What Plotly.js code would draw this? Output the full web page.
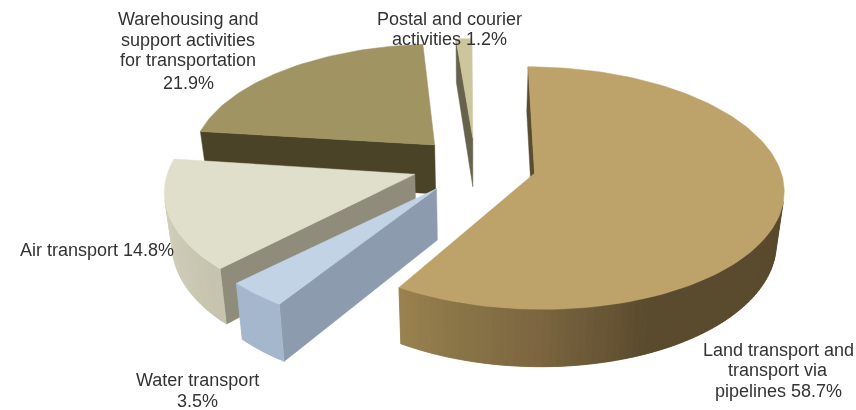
<!DOCTYPE html>
<html>
<head>
<meta charset="utf-8">
<script src="https://cdn.plot.ly/plotly-3.0.1.min.js"></script>
<style>html,body{margin:0;padding:0;background:#fff}#c{width:856px;height:410px;filter:blur(0.5px)}</style>
</head>
<body>
<div id="c"></div>
<script>
// Data, clockwise from the top of the pie
const categories = ['Land transport and transport via pipelines','Water transport','Air transport','Warehousing and support activities for transportation','Postal and courier activities'];
const shares = [58.7, 3.5, 14.8, 21.9, 1.2];
const labelLines = [
  ['Land transport and','transport via','pipelines 58.7%'],
  ['Water transport','3.5%'],
  ['Air transport 14.8%'],
  ['Warehousing and','support activities','for transportation','21.9%'],
  ['Postal and courier','activities 1.2%']
];
// Styles and layout
const topColors = ['#BDA26A','#C2D3E6','#E0DFCB','#A09562','#CCC59E'];
const cutColors = ['#5A4C30','#8C9BAE','#8F8C7B','#4B4327','#66624C'];
const rimStops = [
  [[0,'#5A4B2E'],[155,'#5A4B2E'],[178,'#7C6540'],[195,'#8A7548'],[210,'#9C8450']],
  [[0,'#A0B2C8'],[360,'#A8BACE']],
  [[224,'#C6C3AE'],[277,'#DCDAC6']],
  [[0,'#4B4327'],[360,'#4B4327']],
  [[0,'#66624C'],[360,'#66624C']]
];
const labelX = [778, 197, 96.5, 188, 449];
const labelY = [[350,370,391],[380,401],[250],[19,40,60,83],[19,39]];
const sliceDX = [3, 0, -1.5, 3, 3];
const sliceDY = [1, 0, -1, 0, 1];
const sliceTurn = [1, 3, 1.5, 1, 0.7];
const drawOrder = [3, 4, 2, 1, 0];
// Projection of the tilted pie
const CX = 473, CY = 165, RX = 245, RY = 117.7, PERSP = 0.121, DEPTH = 50, TAPER = 0.025;
const EXPLODE = 0.245, START = -1;

function proj(u, v, dx, dy) {
  const w = 1 + PERSP * v;
  const x = CX + RX * u / w + dx, y = CY - RY * v / w + dy;
  return {x, y, bx: CX + (x - CX) * (1 - TAPER), by: y + DEPTH / w};
}
function hex(c){return [1,3,5].map(i=>parseInt(c.substr(i,2),16));}
function colorAt(stops, a){
  if (a <= stops[0][0]) return stops[0][1];
  for (let i = 1; i < stops.length; i++) {
    if (a <= stops[i][0]) {
      const t = (a - stops[i-1][0]) / (stops[i][0] - stops[i-1][0]);
      const p = hex(stops[i-1][1]), q = hex(stops[i][1]);
      return 'rgb(' + p.map((v,k)=>Math.round(v + (q[k]-v)*t)).join(',') + ')';
    }
  }
  return stops[stops.length-1][1];
}
function poly(xs, ys, color){
  return {type:'scatter', mode:'lines', x:xs, y:ys, fill:'toself', fillcolor:color,
          line:{color:color, width:0.5}, hoverinfo:'skip', showlegend:false};
}
const total = shares.reduce((a,b)=>a+b, 0);
const spans = []; let acc = 0;
shares.forEach(s => { const a0 = START + acc/total*360; acc += s; spans.push([a0, START + acc/total*360]); });

const traces = [];
drawOrder.forEach(i => {
  const [a0, a1] = spans[i];
  const dx = sliceDX[i], dy = sliceDY[i], turn = sliceTurn[i];
  const mid = (a0 + a1) / 2 * Math.PI / 180;
  const ou = EXPLODE * Math.sin(mid), ov = EXPLODE * Math.cos(mid);
  const apex = proj(ou, ov, dx, dy);
  const rim = [], rimA = [];
  const n = Math.max(2, Math.ceil((a1 - a0) / 1.5));
  for (let k = 0; k <= n; k++) {
    const a = a0 + (a1 - a0) * k / n, r = (a + turn) * Math.PI / 180;
    rim.push(proj(ou + Math.sin(r), ov + Math.cos(r), dx, dy)); rimA.push(a);
  }
  const visible = (p, q) => (q.x-p.x)*(p.by-p.y) - (q.y-p.y)*(p.bx-p.x) < 0;
  const quad = (p, q, color) => traces.push(poly([p.x,q.x,q.bx,p.bx,p.x],[p.y,q.y,q.by,p.by,p.y],color));
  if (visible(apex, rim[0])) quad(apex, rim[0], cutColors[i]);
  if (visible(rim[n], apex)) quad(rim[n], apex, cutColors[i]);
  // Neighbouring rim strips overlap, so no seams show between the colour steps.
  for (let k = n - 1; k >= 0; k--) {
    if (visible(rim[k], rim[k+1])) quad(rim[k], rim[Math.min(k+2, n)], colorAt(rimStops[i], (rimA[k]+rimA[k+1])/2));
  }
  const xs = [apex.x].concat(rim.map(p=>p.x), [apex.x]);
  const ys = [apex.y].concat(rim.map(p=>p.y), [apex.y]);
  const t = poly(xs, ys, topColors[i]);
  t.name = categories[i];
  traces.push(t);
});

const annotations = [];
labelLines.forEach((lines, i) => lines.forEach((line, j) => annotations.push({
  x: labelX[i], y: labelY[i][j], xref:'x', yref:'y', showarrow:false, align:'center',
  text: line, font:{family:'Liberation Sans, Arial, sans-serif', size:18, color:'#333'}
})));
const hidden = {visible:false, fixedrange:true};
Plotly.newPlot('c', traces, {
  width:856, height:410, margin:{l:0,r:0,t:0,b:0}, showlegend:false,
  paper_bgcolor:'#fff', plot_bgcolor:'#fff',
  xaxis:Object.assign({range:[0,856]}, hidden),
  yaxis:Object.assign({range:[410,0]}, hidden),
  annotations
}, {staticPlot:true});
</script>
</body>
</html>
